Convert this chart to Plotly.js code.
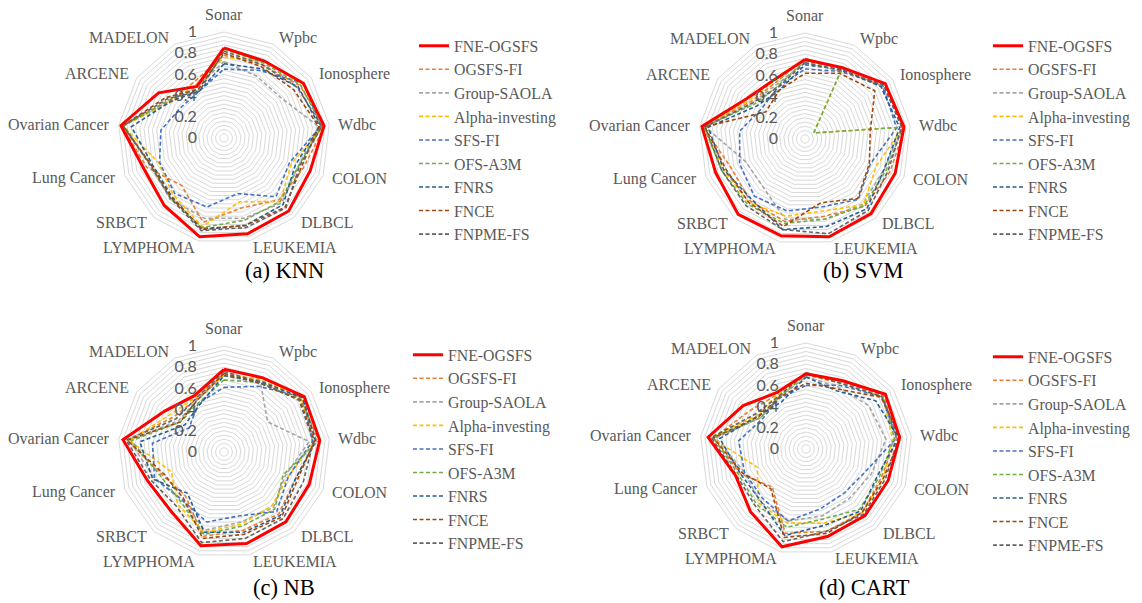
<!DOCTYPE html>
<html><head><meta charset="utf-8">
<script src="https://cdn.plot.ly/plotly-3.0.1.min.js"></script>
<style>html,body{margin:0;padding:0;background:#fff}#chart{width:1142px;height:603px}</style>
</head><body><div id="chart"></div>
<script>
const categories = ['Sonar','Wpbc','Ionosphere','Wdbc','COLON','DLBCL','LEUKEMIA','LYMPHOMA','SRBCT','Lung Cancer','Ovarian Cancer','ARCENE','MADELON'];
const seriesNames = ['FNE-OGSFS','OGSFS-FI','Group-SAOLA','Alpha-investing','SFS-FI','OFS-A3M','FNRS','FNCE','FNPME-FS'];
const seriesColors = ['#FF0000','#ED7D31','#A5A5A5','#FFC000','#4472C4','#70AD47','#255E91','#9E480E','#636363'];
const captions = ['(a) KNN','(b) SVM','(c) NB','(d) CART'];
const radialLabels = ['0','0.2','0.4','0.6','0.8','1'];

// (a) KNN
const KNN_FNE_OGSFS   = [0.85,0.82,0.91,0.95,0.87,0.92,0.93,0.96,0.85,0.81,0.98,0.75,0.55];
const KNN_OGSFS_FI    = [0.78,0.78,0.87,0.96,0.80,0.78,0.68,0.82,0.60,0.78,0.97,0.62,0.60];
const KNN_GROUP_SAOLA = [0.72,0.66,0.66,0.90,0.75,0.82,0.78,0.78,0.77,0.73,0.97,0.60,0.55];
const KNN_ALPHA       = [0.76,0.82,0.90,0.95,0.68,0.80,0.62,0.86,0.72,0.66,0.96,0.60,0.57];
const KNN_SFS_FI      = [0.65,0.72,0.91,0.92,0.66,0.74,0.54,0.67,0.70,0.65,0.60,0.50,0.50];
const KNN_OFS_A3M     = [0.84,0.80,0.88,0.93,0.75,0.80,0.80,0.87,0.76,0.74,0.95,0.63,0.52];
const KNN_FNRS        = [0.70,0.74,0.85,0.91,0.72,0.84,0.85,0.89,0.74,0.72,0.88,0.61,0.50];
const KNN_FNCE        = [0.80,0.76,0.80,0.90,0.78,0.87,0.85,0.88,0.75,0.73,0.96,0.67,0.52];
const KNN_FNPME_FS    = [0.82,0.78,0.84,0.93,0.76,0.88,0.87,0.90,0.76,0.74,0.96,0.65,0.50];

// (b) SVM
const SVM_FNE_OGSFS   = [0.75,0.76,0.92,0.94,0.91,0.94,0.95,0.94,0.95,0.90,0.98,0.67,0.63];
const SVM_OGSFS_FI    = [0.76,0.75,0.88,0.95,0.86,0.85,0.75,0.80,0.78,0.75,0.97,0.62,0.60];
const SVM_GROUP_SAOLA = [0.72,0.74,0.90,0.92,0.80,0.82,0.78,0.78,0.60,0.60,0.95,0.60,0.58];
const SVM_ALPHA       = [0.74,0.75,0.10,0.93,0.72,0.83,0.70,0.75,0.80,0.82,0.97,0.64,0.62];
const SVM_SFS_FI      = [0.66,0.72,0.89,0.87,0.66,0.76,0.66,0.70,0.72,0.66,0.62,0.50,0.55];
const SVM_OFS_A3M     = [0.74,0.75,0.10,0.93,0.82,0.84,0.78,0.82,0.82,0.84,0.96,0.58,0.56];
const SVM_FNRS        = [0.70,0.74,0.87,0.90,0.80,0.88,0.85,0.88,0.76,0.82,0.92,0.55,0.52];
const SVM_FNCE        = [0.62,0.70,0.80,0.62,0.65,0.75,0.62,0.85,0.80,0.80,0.95,0.45,0.52];
const SVM_FNPME_FS    = [0.72,0.73,0.90,0.92,0.84,0.90,0.92,0.88,0.84,0.84,0.95,0.60,0.55];

// (c) NB
const NB_FNE_OGSFS    = [0.78,0.79,0.92,0.91,0.86,0.88,0.89,0.91,0.75,0.77,0.96,0.68,0.60];
const NB_OGSFS_FI     = [0.74,0.76,0.90,0.88,0.72,0.78,0.76,0.82,0.55,0.62,0.92,0.58,0.56];
const NB_GROUP_SAOLA  = [0.72,0.74,0.50,0.81,0.62,0.70,0.68,0.76,0.60,0.70,0.90,0.52,0.55];
const NB_ALPHA        = [0.72,0.78,0.89,0.86,0.65,0.68,0.70,0.78,0.66,0.53,0.90,0.62,0.58];
const NB_SFS_FI       = [0.61,0.70,0.91,0.84,0.65,0.75,0.62,0.68,0.60,0.70,0.68,0.40,0.52];
const NB_OFS_A3M      = [0.68,0.74,0.88,0.90,0.60,0.72,0.72,0.80,0.62,0.64,0.88,0.50,0.52];
const NB_FNRS         = [0.72,0.75,0.90,0.87,0.72,0.80,0.78,0.78,0.52,0.72,0.80,0.45,0.50];
const NB_FNCE         = [0.74,0.73,0.87,0.86,0.74,0.82,0.80,0.84,0.58,0.60,0.92,0.50,0.55];
const NB_FNPME_FS     = [0.76,0.74,0.86,0.85,0.80,0.84,0.84,0.88,0.68,0.74,0.93,0.55,0.57];

// (d) CART
const CART_FNE_OGSFS   = [0.71,0.73,0.91,0.89,0.83,0.84,0.85,0.95,0.79,0.71,0.93,0.72,0.60];
const CART_OGSFS_FI    = [0.70,0.70,0.89,0.86,0.76,0.80,0.80,0.82,0.48,0.66,0.88,0.64,0.58];
const CART_GROUP_SAOLA = [0.68,0.66,0.72,0.76,0.66,0.62,0.65,0.70,0.66,0.62,0.86,0.52,0.55];
const CART_ALPHA       = [0.70,0.72,0.88,0.82,0.78,0.80,0.72,0.72,0.68,0.49,0.90,0.56,0.58];
const CART_SFS_FI      = [0.60,0.68,0.87,0.86,0.60,0.55,0.58,0.70,0.62,0.62,0.64,0.50,0.54];
const CART_OFS_A3M     = [0.70,0.71,0.89,0.84,0.74,0.76,0.68,0.76,0.70,0.68,0.88,0.52,0.55];
const CART_FNRS        = [0.68,0.62,0.80,0.88,0.72,0.78,0.74,0.84,0.65,0.66,0.82,0.55,0.50];
const CART_FNCE        = [0.62,0.64,0.86,0.90,0.78,0.80,0.82,0.86,0.50,0.64,0.88,0.54,0.55];
const CART_FNPME_FS    = [0.72,0.70,0.87,0.88,0.80,0.82,0.80,0.90,0.72,0.70,0.90,0.58,0.56];

const panelData = [
  [KNN_FNE_OGSFS,KNN_OGSFS_FI,KNN_GROUP_SAOLA,KNN_ALPHA,KNN_SFS_FI,KNN_OFS_A3M,KNN_FNRS,KNN_FNCE,KNN_FNPME_FS],
  [SVM_FNE_OGSFS,SVM_OGSFS_FI,SVM_GROUP_SAOLA,SVM_ALPHA,SVM_SFS_FI,SVM_OFS_A3M,SVM_FNRS,SVM_FNCE,SVM_FNPME_FS],
  [NB_FNE_OGSFS,NB_OGSFS_FI,NB_GROUP_SAOLA,NB_ALPHA,NB_SFS_FI,NB_OFS_A3M,NB_FNRS,NB_FNCE,NB_FNPME_FS],
  [CART_FNE_OGSFS,CART_OGSFS_FI,CART_GROUP_SAOLA,CART_ALPHA,CART_SFS_FI,CART_OFS_A3M,CART_FNRS,CART_FNCE,CART_FNPME_FS]
];

const W = 1142, H = 603;
// layout geometry (pixels)
const centers = [[224,138],[805,139],[224,452],[806,449]];
const R = 106;
const labelGap = 7;
const legendPos = [[414,29],[988,29],[408,338],[988,340]];
const captionPos = [[284,270],[863,270],[284,587],[864,587]];
const subplotKeys = ['polar','polar2','polar3','polar4'];
const legendKeys = ['legend','legend2','legend3','legend4'];

// grid rings every 0.04, labels every 0.2
const gridVals = [], gridText = [];
for (let i = 0; i <= 25; i++) {
  const v = Math.round(i * 4) / 100;
  gridVals.push(v);
  gridText.push(i % 5 === 0 ? radialLabels[i / 5] : '');
}

const traces = [];
const layout = {
  width: W, height: H,
  margin: {l:0, r:0, t:0, b:0},
  paper_bgcolor: '#fff',
  showlegend: true,
  annotations: []
};
const labelFont = {family: 'Liberation Serif, Times New Roman, serif', size: 16, color: '#595959'};

for (let p = 0; p < 4; p++) {
  const [cx, cy] = centers[p];
  layout[subplotKeys[p]] = {
    domain: {x: [(cx - R) / W, (cx + R) / W], y: [(H - cy - R) / H, (H - cy + R) / H]},
    bgcolor: '#fff',
    gridshape: 'linear',
    radialaxis: {
      range: [0, 1], angle: 90, side: 'counterclockwise',
      tickmode: 'array', tickvals: gridVals, ticktext: gridText,
      showline: false, gridcolor: '#D9D9D9', gridwidth: 1,
      ticks: 'outside', ticklen: 21, tickcolor: 'rgba(0,0,0,0)',
      tickangle: 90,
      tickfont: {family: 'Lato, Liberation Sans, sans-serif', size: 16, color: '#595959'}
    },
    angularaxis: {
      direction: 'clockwise', rotation: 90, type: 'category',
      categoryarray: categories,
      showgrid: false, showline: true, linecolor: '#D9D9D9', linewidth: 1,
      ticks: '', showticklabels: false
    }
  };
  // category labels placed just outside each polygon vertex (same angles as the angular axis)
  const n = categories.length;
  categories.forEach((c, i) => {
    const a = 2 * Math.PI * i / n;
    const s = Math.sin(a), co = Math.cos(a);
    const px = cx + (R + labelGap) * s;
    const py = cy - (R + labelGap) * co;
    layout.annotations.push({
      text: c, xref: 'paper', yref: 'paper',
      x: px / W, y: 1 - py / H,
      xanchor: Math.abs(s) < 0.01 ? 'center' : (s > 0 ? 'left' : 'right'),
      yanchor: Math.abs(s) < 0.01 ? 'bottom' : 'middle',
      showarrow: false, font: labelFont
    });
  });
  layout[legendKeys[p]] = {
    x: legendPos[p][0] / W, y: 1 - legendPos[p][1] / H,
    xanchor: 'left', yanchor: 'top',
    bgcolor: 'rgba(0,0,0,0)',
    font: {family: 'Liberation Serif, Times New Roman, serif', size: 15.8, color: '#595959'},
    itemwidth: 30
  };
  layout.annotations.push({
    text: captions[p], xref: 'paper', yref: 'paper',
    x: captionPos[p][0] / W, y: 1 - captionPos[p][1] / H,
    xanchor: 'center', yanchor: 'middle', showarrow: false,
    font: {family: 'Liberation Serif, DejaVu Serif, serif', size: 22.5, color: '#000'}
  });
  const order = [1,2,3,4,5,6,7,8,0];
  for (const s of order) {
    const vals = panelData[p][s];
    traces.push({
      type: 'scatterpolar',
      subplot: subplotKeys[p],
      r: vals.concat([vals[0]]),
      theta: categories.concat([categories[0]]),
      mode: 'lines',
      name: seriesNames[s],
      legend: legendKeys[p],
      legendrank: s + 1,
      line: s === 0
        ? {color: seriesColors[s], width: 3}
        : {color: seriesColors[s], width: 1.6, dash: '4px,2.5px'},
      hoverinfo: 'name+r+theta'
    });
  }
}

Plotly.newPlot('chart', traces, layout, {displayModeBar: false, staticPlot: true});
</script>
</body></html>
